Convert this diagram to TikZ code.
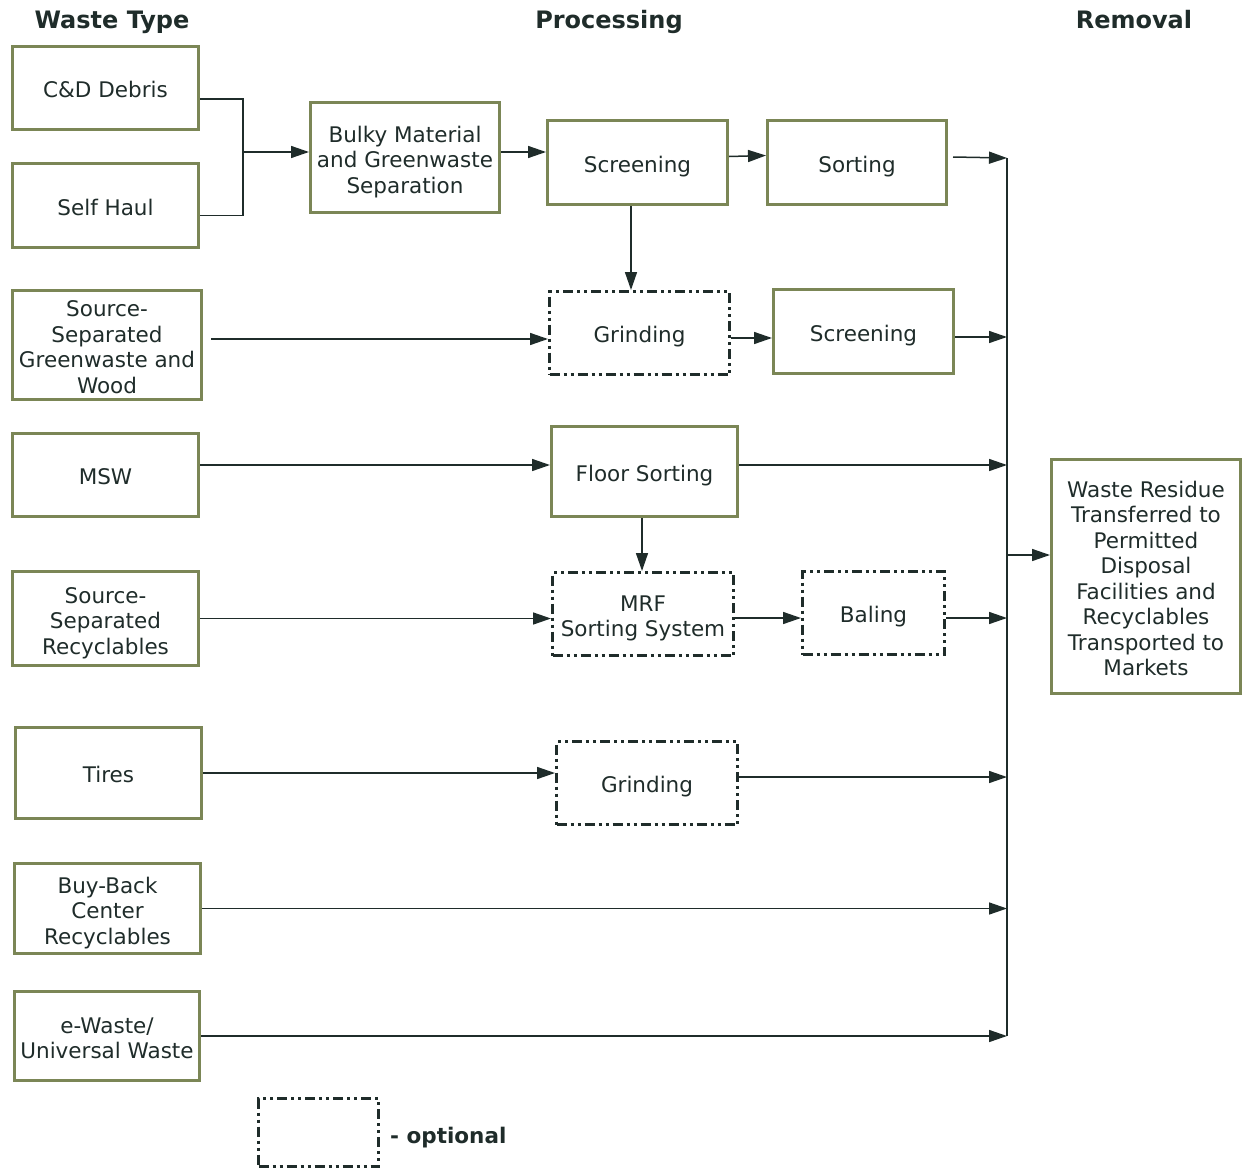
\documentclass[tikz,border=0pt]{standalone}
\usepackage{fontspec}
\setmainfont{DejaVu Sans}
\usetikzlibrary{arrows.meta,calc}
\definecolor{boxgreen}{HTML}{7B8656}
\definecolor{ink}{HTML}{1F2C2A}
\newcommand\firstlinestrut{\rule{0pt}{26pt}}
\begin{document}
\begin{tikzpicture}[x=1pt,y=-1pt,
 font=\fontsize{21.5}{25.5}\selectfont,
 boxtext/.style={execute at begin node={\rule[-6pt]{0pt}{31pt}}, execute at end node={\rule[-6pt]{0pt}{6pt}}},
 solidbox/.style={draw=boxgreen, line width=3pt, inner sep=0pt, align=center, text=ink, boxtext},
 optbox/.style={draw=ink, line width=3pt, dash pattern=on 10pt off 4pt on 3pt off 4pt on 3pt off 4pt, inner sep=0pt, align=center, text=ink, boxtext},
 flow/.style={draw=ink, line width=1.5pt, -{Triangle[length=18pt,width=12pt]}},
 plain/.style={draw=ink, line width=1.5pt},
 hdr/.style={font=\fontsize{24}{28}\selectfont\bfseries, text=ink, anchor=base, inner sep=0pt}
]
\useasboundingbox (0,0) rectangle (1248,1172);

% headers
\node[hdr] (h1) at (112,29) {Waste Type};
\node[hdr] (h2) at (609,29) {Processing};
\node[hdr] (h3) at (1134,29) {Removal};

% waste type boxes
\node[solidbox, minimum width=186pt, minimum height=83pt] (cd) at (105.5,88) {C\&D Debris};
\node[solidbox, minimum width=186pt, minimum height=84pt] (self) at (105.5,205.5) {Self Haul};
\node[solidbox, minimum width=189pt, minimum height=107pt] (green) at (107,345) {\firstlinestrut Source-\\Separated\\Greenwaste and\\Wood};
\node[solidbox, minimum width=186pt, minimum height=83pt] (msw) at (105.5,475) {MSW};
\node[solidbox, minimum width=186pt, minimum height=94pt] (recyc) at (105.5,618.5) {\firstlinestrut Source-\\Separated\\Recyclables};
\node[solidbox, minimum width=186pt, minimum height=91pt] (tires) at (108.5,773) {Tires};
\node[solidbox, minimum width=186pt, minimum height=90pt] (buyback) at (107.5,908.5) {\firstlinestrut Buy-Back\\Center\\Recyclables};
\node[solidbox, minimum width=185pt, minimum height=89pt] (ewaste) at (107,1036) {\firstlinestrut e-Waste/\\Universal Waste};

% processing boxes
\node[solidbox, minimum width=189pt, minimum height=110pt] (bulky) at (405,157.5) {\firstlinestrut Bulky Material\\and Greenwaste\\Separation};
\node[solidbox, minimum width=180pt, minimum height=84pt] (screen1) at (637.5,162.5) {Screening};
\node[solidbox, minimum width=179pt, minimum height=84pt] (sorting) at (857,162.5) {Sorting};
\node[optbox, minimum width=180pt, minimum height=83pt] (grind1) at (639.5,333) {Grinding};
\node[solidbox, minimum width=180pt, minimum height=84pt] (screen2) at (863.5,331.5) {Screening};
\node[solidbox, minimum width=186pt, minimum height=90pt] (floor) at (644.5,471.5) {Floor Sorting};
\node[optbox, minimum width=181pt, minimum height=83pt] (mrf) at (643,614) {\firstlinestrut MRF\\Sorting System};
\node[optbox, minimum width=142pt, minimum height=83pt] (baling) at (873.5,613) {Baling};
\node[optbox, minimum width=181pt, minimum height=83pt] (grind2) at (647,783) {Grinding};

% removal box
\node[solidbox, minimum width=189pt, minimum height=234pt] (residue) at (1146,576.5) {\firstlinestrut Waste Residue\\Transferred to\\Permitted\\Disposal\\Facilities and\\Recyclables\\Transported to\\Markets};

% legend
\node[draw=ink, line width=3pt, dash pattern=on 10pt off 4pt on 3pt off 4pt on 3pt off 4pt, inner sep=0pt, minimum width=120pt, minimum height=68pt] (legend) at (318.5,1132.5) {};
\node[anchor=base west, font=\fontsize{21.5}{25.5}\selectfont\bfseries, text=ink, inner sep=0pt] (legendtxt) at (390,1143) {- optional};

% bracket from C&D and Self Haul
\coordinate (j) at (243,152);
\draw[plain] ($(cd.east)+(0,11)$) -| (j);
\draw[plain] ($(self.east)+(0,10)$) -| (j);
\draw[flow] (j) -- (j -| bulky.west);
\draw[flow] (j -| bulky.east) -- (j -| screen1.west);
\draw[flow] ($(screen1.east)+(0,-6)$) -- ($(sorting.west)+(0,-7)$);
\coordinate (s1d) at ($(screen1.south)+(-6.5,0)$);
\draw[flow] (s1d) -- (s1d |- grind1.north);

\coordinate (g1) at ($(green.east)+(8,-6)$);
\draw[flow] (g1) -- (g1 -| grind1.west);
\coordinate (g2) at ($(grind1.east)+(0,5)$);
\draw[flow] (g2) -- (g2 -| screen2.west);

\coordinate (m1) at ($(msw.east)+(0,-10)$);
\draw[flow] (m1) -- (m1 -| floor.west);
\coordinate (f1) at ($(floor.south)+(-2.5,0)$);
\draw[flow] (f1) -- (f1 |- mrf.north);

\draw[flow] (recyc.east) -- (recyc.east -| mrf.west);
\coordinate (m2) at ($(mrf.east)+(0,4)$);
\draw[flow] (m2) -- (m2 -| baling.west);

\draw[flow] (tires.east) -- (tires.east -| grind2.west);

% collector bus
\coordinate (btop) at (1007,158);
\coordinate (bbot) at (btop |- ewaste.east);
\draw[plain] (btop) -- (bbot);

\coordinate (so1) at ($(sorting.east)+(5,-5.5)$);
\draw[flow] (so1) -- (btop);
\coordinate (s2) at ($(screen2.east)+(0,5.5)$);
\draw[flow] (s2) -- (s2 -| btop);
\coordinate (f2) at ($(floor.east)+(0,-6.5)$);
\draw[flow] (f2) -- (f2 -| btop);
\coordinate (b2) at ($(baling.east)+(0,5)$);
\draw[flow] (b2) -- (b2 -| btop);
\coordinate (g3) at ($(grind2.east)+(0,-6)$);
\draw[flow] (g3) -- (g3 -| btop);
\draw[flow] (buyback.east) -- (buyback.east -| btop);
\draw[flow] (ewaste.east) -- (bbot);

\coordinate (r1) at (1007,555);
\draw[flow] (r1) -- (r1 -| residue.west);
\end{tikzpicture}
\end{document}
